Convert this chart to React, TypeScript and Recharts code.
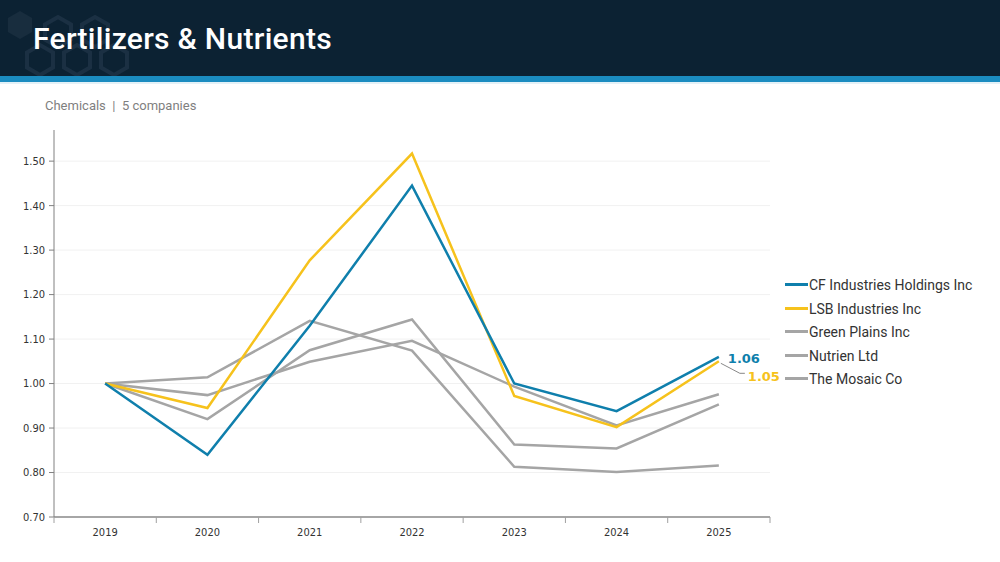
import React from "react";
import { LineChart, Line, XAxis, YAxis, CartesianGrid } from "recharts";

const years = ["2019", "2020", "2021", "2022", "2023", "2024", "2025"];

const cfIndustries = [1.0, 0.84, 1.13, 1.445, 1.0, 0.938, 1.06];
const lsbIndustries = [1.0, 0.945, 1.277, 1.517, 0.972, 0.902, 1.05];
const greenPlains = [1.0, 1.014, 1.141, 1.074, 0.813, 0.801, 0.816];
const nutrien = [1.0, 0.974, 1.049, 1.096, 0.993, 0.906, 0.976];
const mosaic = [1.0, 0.92, 1.075, 1.144, 0.863, 0.854, 0.953];

const yTicks = [0.7, 0.8, 0.9, 1.0, 1.1, 1.2, 1.3, 1.4, 1.5];

const BLUE = "#0f7fac";
const YELLOW = "#f6c21c";
const GRAY = "#a5a5a5";

const data = years.map((year, i) => ({
  year,
  cf: cfIndustries[i],
  lsb: lsbIndustries[i],
  green: greenPlains[i],
  nutrien: nutrien[i],
  mosaic: mosaic[i],
}));

const series = [
  { key: "cf", name: "CF Industries Holdings Inc", color: BLUE },
  { key: "lsb", name: "LSB Industries Inc", color: YELLOW },
  { key: "green", name: "Green Plains Inc", color: GRAY },
  { key: "nutrien", name: "Nutrien Ltd", color: GRAY },
  { key: "mosaic", name: "The Mosaic Co", color: GRAY },
];

const W = 1000;
const H = 562;
const margin = { top: 130, right: 230, bottom: 0, left: 0 };
const X_AXIS_H = 45;
const Y_AXIS_W = 54;
const Y_MIN = 0.7;
const Y_MAX = 1.57;
const halfBand = (W - margin.right - Y_AXIS_W) / years.length / 2;

// grid rows only at the labelled ticks (not at the top edge of the plot)
const plotH = H - margin.top - margin.bottom - X_AXIS_H;
const gridRows = yTicks.map((t) => margin.top + ((Y_MAX - t) / (Y_MAX - Y_MIN)) * plotH);

const tickFont = "'DejaVu Sans Condensed', 'DejaVu Sans', sans-serif";

const renderYearTick = (props: any) => {
  const { x, y, payload, index } = props;
  const last = index === years.length - 1;
  return (
    <g>
      <line x1={x - halfBand} y1={y} x2={x - halfBand} y2={y + 6} stroke="#a0a0a0" />
      {last && <line x1={x + halfBand} y1={y} x2={x + halfBand} y2={y + 6} stroke="#a0a0a0" />}
      <text x={x} y={y + 19} textAnchor="middle" fontSize={11} fontFamily={tickFont} fill="#333">
        {payload.value}
      </text>
    </g>
  );
};

const endLabel = (color: string, leader: boolean) => (props: any) => {
  const { x, y, index, value } = props;
  if (index !== years.length - 1) return null;
  const txt = Number(value).toFixed(2);
  if (!leader) {
    return (
      <text x={x + 9} y={y + 6} fontSize={13} fontWeight="bold" fontFamily="'DejaVu Sans', sans-serif" fill={color}>
        {txt}
      </text>
    );
  }
  return (
    <g>
      <polyline
        points={`${x + 2},${y + 2} ${x + 21},${y + 12} ${x + 26},${y + 12}`}
        fill="none"
        stroke="#888"
        strokeWidth={1}
      />
      <text x={x + 29} y={y + 20} fontSize={13} fontWeight="bold" fontFamily="'DejaVu Sans', sans-serif" fill={color}>
        {txt}
      </text>
    </g>
  );
};

const hexPoints = (cx: number, cy: number, r: number) =>
  [0, 1, 2, 3, 4, 5]
    .map((k) => {
      const a = (Math.PI / 3) * k + Math.PI / 6;
      return `${cx + r * Math.cos(a)},${cy + r * Math.sin(a)}`;
    })
    .join(" ");

export default function App() {
  return (
    <div style={{ position: "absolute", left: 0, top: 0, width: W, height: H, background: "#fff", overflow: "hidden" }}>
      <div style={{ position: "absolute", left: 0, top: 0, width: W, height: 76, background: "#0c2233" }} />
      <svg style={{ position: "absolute", left: 0, top: 0 }} width={160} height={76}>
        <polygon points={hexPoints(20, 25, 14)} fill="#182d3e" />
        <polygon points={hexPoints(58, 32, 15)} fill="none" stroke="#1b3043" strokeWidth={4} />
        <polygon points={hexPoints(95, 32, 15)} fill="none" stroke="#1b3043" strokeWidth={4} />
        <polygon points={hexPoints(40, 60, 15)} fill="none" stroke="#1b3043" strokeWidth={4} />
        <polygon points={hexPoints(77, 60, 15)} fill="none" stroke="#1b3043" strokeWidth={4} />
        <polygon points={hexPoints(114, 60, 15)} fill="none" stroke="#1b3043" strokeWidth={4} />
      </svg>
      <div style={{ position: "absolute", left: 0, top: 76, width: W, height: 6, background: "#1b8cc0" }} />
      <div style={{ position: "absolute", left: 0, top: 82, width: W, height: 2, background: "#e3f1f7" }} />
      <div
        style={{
          position: "absolute",
          left: 33,
          top: 19,
          color: "#fff",
          fontFamily: "Roboto, sans-serif",
          fontWeight: 500,
          fontSize: 30,
          letterSpacing: 0.3,
          lineHeight: "40px",
        }}
      >
        Fertilizers &amp; Nutrients
      </div>
      <div
        style={{
          position: "absolute",
          left: 45,
          top: 97,
          color: "#7f7f7f",
          fontFamily: "Roboto, sans-serif",
          fontSize: 13,
          lineHeight: "18px",
        }}
      >
        Chemicals&nbsp;&nbsp;|&nbsp;&nbsp;5 companies
      </div>
      <div style={{ position: "absolute", left: 0, top: 0 }}>
        <LineChart width={W} height={H} data={data} margin={margin}>
          <CartesianGrid horizontal vertical={false} stroke="#f1f1f1" horizontalPoints={gridRows} />
          <XAxis
            dataKey="year"
            scale="band"
            axisLine={{ stroke: "#a6a6a6", strokeWidth: 2 }}
            tickLine={false}
            tickSize={0}
            tickMargin={0}
            interval={0}
            tick={renderYearTick}
            height={X_AXIS_H}
          />
          <YAxis
            width={Y_AXIS_W}
            domain={[Y_MIN, Y_MAX]}
            ticks={yTicks}
            allowDataOverflow
            tickFormatter={(v: number) => v.toFixed(2)}
            axisLine={{ stroke: "#808080" }}
            tickLine={{ stroke: "#808080" }}
            tickSize={5}
            tickMargin={4}
            tick={{ fontSize: 11, fontFamily: tickFont, fill: "#333" }}
          />
          <Line dataKey="green" name="Green Plains Inc" stroke={GRAY} strokeWidth={2.5} dot={false} isAnimationActive={false} />
          <Line dataKey="nutrien" name="Nutrien Ltd" stroke={GRAY} strokeWidth={2.5} dot={false} isAnimationActive={false} />
          <Line dataKey="mosaic" name="The Mosaic Co" stroke={GRAY} strokeWidth={2.5} dot={false} isAnimationActive={false} />
          <Line
            dataKey="lsb"
            name="LSB Industries Inc"
            stroke={YELLOW}
            strokeWidth={2.5}
            dot={false}
            isAnimationActive={false}
            label={endLabel(YELLOW, true)}
          />
          <Line
            dataKey="cf"
            name="CF Industries Holdings Inc"
            stroke={BLUE}
            strokeWidth={2.5}
            dot={false}
            isAnimationActive={false}
            label={endLabel(BLUE, false)}
          />
        </LineChart>
      </div>
      {series.map((s, i) => (
        <div
          key={s.key}
          style={{
            position: "absolute",
            left: 785,
            top: 273 + Math.round(i * 23.5),
            height: 23,
            display: "flex",
            alignItems: "center",
            fontFamily: "Roboto, sans-serif",
            fontSize: 14,
            color: "#333",
            whiteSpace: "nowrap",
          }}
        >
          <span style={{ display: "inline-block", width: 23, height: 3, background: s.color }} />
          <span style={{ marginLeft: 1 }}>{s.name}</span>
        </div>
      ))}
    </div>
  );
}
